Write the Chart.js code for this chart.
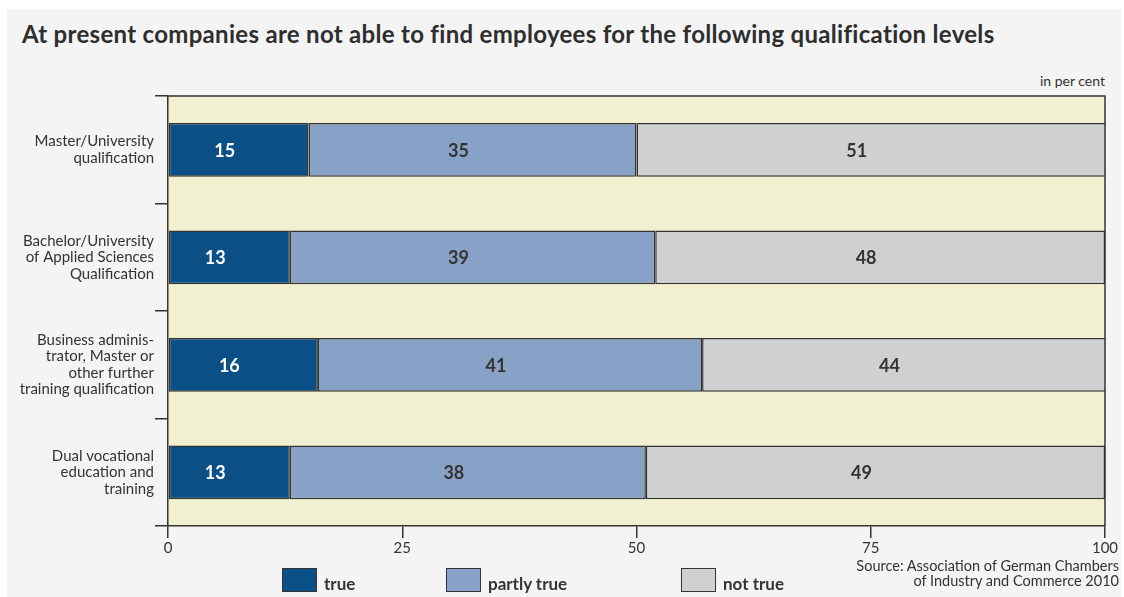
<!DOCTYPE html>
<html>
<head>
<meta charset="utf-8">
<script src="https://cdn.jsdelivr.net/npm/chart.js@4.4.1/dist/chart.umd.min.js"></script>
<style>
  html, body { margin: 0; padding: 0; background: #fff; }
  body { width: 1124px; height: 597px; position: relative; overflow: hidden; font-family: Lato, "Open Sans", sans-serif; color: #333; }
  .panel { position: absolute; left: 7px; top: 9px; right: 3px; bottom: 0; background: #f4f4f4; }
  .title { position: absolute; left: 22px; top: 19px; font-size: 24px; letter-spacing: 0.3px; font-weight: 700; line-height: 30px; white-space: nowrap; color: #2e2e2e; }
  .unit { position: absolute; right: 19px; top: 72px; font-size: 14px; line-height: 18px; }
  .source { position: absolute; right: 5px; top: 558px; font-size: 14.5px; line-height: 15px; text-align: right; }
  #chartBox { position: absolute; left: 0; top: 0; width: 1124px; height: 597px; }
  .legend .item { position: absolute; top: 567px; height: 25px; display: flex; align-items: flex-end; font-size: 17px; font-weight: 700; line-height: 17px; }
  .legend .sw { width: 33px; height: 22px; border: 1.5px solid #333; margin-right: 7px; }
</style>
</head>
<body>
<div class="panel"></div>
<div class="title">At present companies are not able to find employees for the following qualification levels</div>
<div class="unit">in per cent</div>
<div id="chartBox"><canvas id="qualChart" width="1124" height="597"></canvas></div>
<div class="legend" id="legend"></div>
<div class="source">Source: Association of German Chambers<br>of Industry and Commerce 2010</div>
<script>
(function () {
  'use strict';

  // survey answers, per cent of companies
  const categories = [
    ['Master/University', 'qualification'],
    ['Bachelor/University', 'of Applied Sciences', 'Qualification'],
    ['Business adminis-', 'trator, Master or', 'other further', 'training qualification'],
    ['Dual vocational', 'education and', 'training']
  ];
  const seriesNames = ['true', 'partly true', 'not true'];
  const trueVals = [15, 13, 16, 13];
  const partlyVals = [35, 39, 41, 38];
  const notTrueVals = [51, 48, 44, 49];
  const xTickValues = [0, 25, 50, 75, 100];

  const ink = '#333';
  const colors = ['#0b4f87', '#87a2c6', '#cfd0d2'];
  const labelColors = ['#fff', '#333', '#333'];
  const values = [trueVals, partlyVals, notTrueVals];

  // pale plot background + frame on top and right
  const plotFrame = {
    id: 'plotFrame',
    beforeDraw(chart) {
      const a = chart.chartArea, ctx = chart.ctx;
      ctx.save();
      ctx.fillStyle = '#f1f1d1';
      ctx.fillRect(a.left, a.top, a.right - a.left, a.bottom - a.top);
      ctx.restore();
    },
    afterDraw(chart) {
      const a = chart.chartArea, ctx = chart.ctx;
      ctx.save();
      ctx.strokeStyle = ink;
      ctx.lineWidth = 1.5;
      ctx.beginPath();
      ctx.moveTo(a.left, a.top);
      ctx.lineTo(a.right, a.top);
      ctx.lineTo(a.right, a.bottom);
      ctx.stroke();
      ctx.restore();
    }
  };

  // value written inside each segment
  const segLabels = {
    id: 'segLabels',
    afterDatasetsDraw(chart) {
      const ctx = chart.ctx;
      ctx.save();
      ctx.font = '700 18px Lato, sans-serif';
      ctx.textAlign = 'center';
      ctx.textBaseline = 'middle';
      chart.data.datasets.forEach((ds, di) => {
        const meta = chart.getDatasetMeta(di);
        ctx.fillStyle = labelColors[di];
        meta.data.forEach((bar, i) => {
          const a = chart.chartArea;
          const left = Math.min(bar.base, bar.x), right = Math.min(Math.max(bar.base, bar.x), a.right);
          ctx.fillText(String(ds.data[i]), (left + right) / 2 - 14, bar.y + 1);
        });
      });
      ctx.restore();
    }
  };

  new Chart(document.getElementById('qualChart'), {
    type: 'bar',
    data: {
      labels: categories,
      datasets: seriesNames.map((name, i) => ({
        label: name,
        data: values[i],
        backgroundColor: colors[i],
        borderColor: ink,
        borderWidth: 1.5,
        borderSkipped: false,
        barPercentage: 0.5,
        categoryPercentage: 1,
        clip: 0
      }))
    },
    options: {
      indexAxis: 'y',
      responsive: false,
      animation: false,
      events: [],
      layout: { padding: { top: 96, right: 19, bottom: 41, left: 0 } },
      plugins: { legend: { display: false }, tooltip: { enabled: false } },
      scales: {
        x: {
          stacked: true,
          min: 0, max: 100,
          afterBuildTicks: s => { s.ticks = xTickValues.map(v => ({ value: v })); },
          afterFit: s => { s.height = 30; },
          ticks: { color: ink, font: { family: 'Lato, sans-serif', size: 15 }, padding: 1 },
          grid: { drawOnChartArea: false, tickLength: 12, color: ink, lineWidth: 1.5 },
          border: { color: ink, width: 1.5 }
        },
        y: {
          stacked: true,
          afterFit: s => { s.width = 168; },
          ticks: { color: ink, font: { family: 'Lato, sans-serif', size: 15, lineHeight: 1.1 }, padding: 1 },
          grid: { drawOnChartArea: false, offset: true, tickLength: 13, color: ink, lineWidth: 1.5 },
          border: { color: ink, width: 1.5 }
        }
      }
    },
    plugins: [plotFrame, segLabels]
  });

  // legend row under the axis
  const legendX = [282, 446, 681];
  document.getElementById('legend').innerHTML = seriesNames.map((name, i) =>
    `<div class="item" style="left:${legendX[i]}px"><div class="sw" style="background:${colors[i]}"></div><span>${name}</span></div>`
  ).join('');
})();
</script>
</body>
</html>
